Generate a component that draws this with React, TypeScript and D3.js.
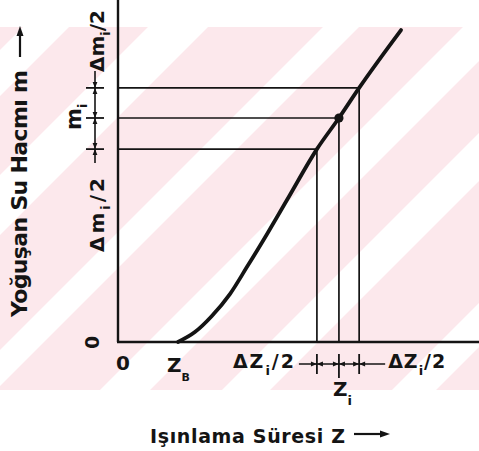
import React from 'react';
import * as d3 from 'd3';

// Curve of condensed water volume m versus irradiation time Z (schematic units)
const zValues = [1.66, 2.13, 2.6, 3.1, 3.57, 4.13, 4.68, 5.51, 6.12, 6.68, 7.84];
const mValues = [0, 0.29, 0.76, 1.4, 2.19, 3.16, 4.15, 5.64, 6.55, 7.43, 9.12];
// Zi - ΔZi/2, Zi, Zi + ΔZi/2
const zStepMarks = [5.51, 6.12, 6.68];
// mi - Δmi/2, mi, mi + Δmi/2
const mStepMarks = [5.64, 6.55, 7.43];
const zBValue = 1.66;
// watermark stripes (x + y bands)
const stripeBands: [number, number][] = [[50, 96], [175, 235], [350, 386], [490, 540], [612, 660], [782, 826]];

const INK = '#141414';
const PINK = '#fce8ec';
const FONT = "'DejaVu Sans', sans-serif";

function arrowHead(tx: number, ty: number, dx: number, dy: number, len = 6, hw = 2.4) {
  const bx = tx - dx * len, by = ty - dy * len;
  const px = -dy * hw, py = dx * hw;
  return `M${tx},${ty}L${bx + px},${by + py}L${bx - px},${by - py}Z`;
}

export default function App() {
  const W = 479, H = 451;
  const x = d3.scaleLinear().domain([0, 10]).range([118, 479]);
  const y = d3.scaleLinear().domain([0, 10]).range([342, 0]);
  const pts = zValues.map((z, i) => [z, mValues[i]] as [number, number]);
  const line = d3.line<[number, number]>().x(d => x(d[0])).y(d => y(d[1])).curve(d3.curveMonotoneX);

  const wmTop = 27, wmBot = 390;

  // x dimension chain
  const dimY = 364;
  const zPx = zStepMarks.map(z => x(z));
  const xDimStart = zPx[0] - 18, xDimEnd = zPx[2] + 26;
  // y dimension chain
  const dimX = 95;
  const mPx = mStepMarks.map(m => y(m));
  const yDimStart = mPx[2] - 17, yDimEnd = mPx[0] + 14;

  const xArrows: string[] = [];
  zPx.forEach(p => {
    xArrows.push(arrowHead(p, dimY, 1, 0));
    xArrows.push(arrowHead(p, dimY, -1, 0));
  });
  const yArrows: string[] = [];
  mPx.forEach(p => {
    yArrows.push(arrowHead(dimX, p, 0, 1));
    yArrows.push(arrowHead(dimX, p, 0, -1));
  });

  const txt = { fontFamily: FONT, fontWeight: 700, fill: INK } as const;

  return (
    <svg width={W} height={H} style={{ position: 'absolute', left: 0, top: 0, background: '#fff' }}>
      <defs>
        <clipPath id="wm">
          <rect x={0} y={wmTop} width={W} height={wmBot - wmTop} />
        </clipPath>
      </defs>
      {/* watermark */}
      <rect x={0} y={wmTop} width={W} height={wmBot - wmTop} fill={PINK} />
      <g clipPath="url(#wm)">
        {stripeBands.map(([a, b], i) => (
          <polygon key={i} fill="#fff"
            points={`${a - wmTop},${wmTop} ${b - wmTop},${wmTop} ${b - wmBot},${wmBot} ${a - wmBot},${wmBot}`} />
        ))}
      </g>

      {/* axes */}
      <line x1={x(0)} y1={y(10)} x2={x(0)} y2={y(0)} stroke={INK} strokeWidth={2.4} />
      <line x1={x(0) - 1} y1={y(0)} x2={x(10)} y2={y(0)} stroke={INK} strokeWidth={2.4} />

      {/* guide lines */}
      {zStepMarks.map((z, i) => (
        <g key={i}>
          <line x1={x(0)} y1={y(mStepMarks[i])} x2={x(z)} y2={y(mStepMarks[i])} stroke={INK} strokeWidth={1.7} />
          <line x1={x(z)} y1={y(mStepMarks[i])} x2={x(z)} y2={y(0)} stroke={INK} strokeWidth={1.7} />
        </g>
      ))}

      {/* curve */}
      <path d={line(pts) || ''} fill="none" stroke={INK} strokeWidth={3.8} strokeLinecap="round" />
      <circle cx={x(zStepMarks[1])} cy={y(mStepMarks[1])} r={4.6} fill={INK} />

      {/* x dimension chain */}
      <line x1={xDimStart} y1={dimY} x2={xDimEnd} y2={dimY} stroke={INK} strokeWidth={1.6} />
      {zPx.map((p, i) => (
        <line key={i} x1={p} y1={dimY - 10} x2={p} y2={dimY + (i === 1 ? 14 : 10)} stroke={INK} strokeWidth={1.8} />
      ))}
      {xArrows.map((d, i) => <path key={i} d={d} fill={INK} />)}

      {/* y dimension chain */}
      <line x1={dimX} y1={yDimStart} x2={dimX} y2={yDimEnd} stroke={INK} strokeWidth={1.6} />
      {mPx.map((p, i) => (
        <line key={i} x1={dimX - 9} y1={p} x2={dimX + 9} y2={p} stroke={INK} strokeWidth={1.8} />
      ))}
      {yArrows.map((d, i) => <path key={i} d={d} fill={INK} />)}

      {/* tick labels */}
      <text x={x(0) - 2} y={370} fontSize={20} {...txt}>0</text>
      <text transform={`translate(${x(0) - 19},${y(0) + 7}) rotate(-90)`} fontSize={19} {...txt}>0</text>
      <text x={x(zBValue) - 11} y={372} fontSize={20} {...txt}>Z<tspan fontSize={11} dy={9}>B</tspan></text>

      {/* x dimension labels */}
      <text x={zPx[0] - 84} y={368} fontSize={19} letterSpacing={2} {...txt}>ΔZ<tspan fontSize={13} dy={7}>i</tspan><tspan dy={-7}>/2</tspan></text>
      <text x={zPx[2] + 29} y={368} fontSize={19} letterSpacing={1} {...txt}>ΔZ<tspan fontSize={13} dy={7}>i</tspan><tspan dy={-7}>/2</tspan></text>
      <text x={zPx[1] - 6} y={396} fontSize={20} {...txt}>Z<tspan fontSize={13} dy={9}>i</tspan></text>

      {/* y dimension labels */}
      <text transform={`translate(104,72) rotate(-90)`} fontSize={20} {...txt}>Δm<tspan fontSize={13} dy={6}>i</tspan><tspan dy={-6}>/2</tspan></text>
      <text transform={`translate(104,252) rotate(-90)`} fontSize={20} letterSpacing={3} {...txt}>Δm<tspan fontSize={13} dy={6}>i</tspan><tspan dy={-6}>/2</tspan></text>
      <text transform={`translate(81,${mPx[1] + 12}) rotate(-90)`} fontSize={21} {...txt}>m<tspan fontSize={13} dy={6}>i</tspan></text>

      {/* axis titles */}
      <text x={150} y={443} fontSize={19} textLength={195} lengthAdjust="spacing" {...txt}>Işınlama Süresi Z</text>
      <line x1={354} y1={434} x2={382} y2={434} stroke={INK} strokeWidth={2.2} />
      <path d={arrowHead(390, 434, 1, 0, 10, 3.5)} fill={INK} />

      <text transform={`translate(27,317) rotate(-90)`} fontSize={22} textLength={247} lengthAdjust="spacing" {...txt}>Yoğuşan Su Hacmı m</text>
      <line x1={20} y1={57} x2={20} y2={34} stroke={INK} strokeWidth={2.2} />
      <path d={arrowHead(20, 26, 0, -1, 10, 3.5)} fill={INK} />
    </svg>
  );
}
